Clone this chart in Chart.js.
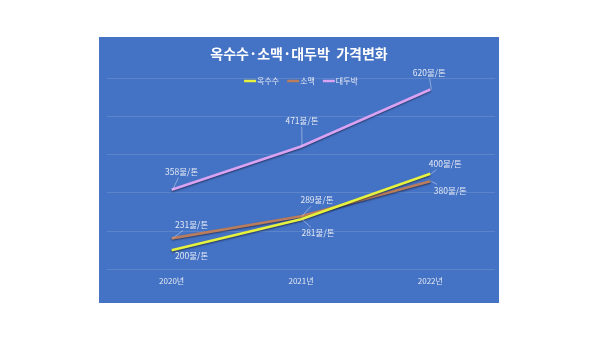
<!DOCTYPE html>
<html>
<head>
<meta charset="UTF-8">
<title>옥수수·소맥·대두박 가격변화</title>
<script src="https://cdn.jsdelivr.net/npm/chart.js@4"></script>
<style>
  html,body{margin:0;padding:0;background:#fff;}
  #box{position:absolute;left:99px;top:37px;width:400px;height:266px;background:#4472C4;}
</style>
</head>
<body>
<div id="box"><canvas id="chart"></canvas></div>
<script>
const titleText = "옥수수·소맥·대두박  가격변화";
const years = ["2020년", "2021년", "2022년"];
const corn = [200, 281, 400];
const wheat = [231, 289, 380];
const soyMeal = [358, 471, 620];
const unit = "불/톤";

// label offsets from each point (dx, dy), per series
const labelOffsets = [
  [[20, 6], [17, 14], [15, -10]],
  [[20, -14], [16, -16], [20, 9]],
  [[10, -18], [1, -26], [-1, -17]]
];

const font = "'Noto Sans CJK KR', 'Noto Sans', sans-serif";

const headerPlugin = {
  id: "header",
  afterDraw(chart) {
    const ctx = chart.ctx;
    const w = chart.width;
    ctx.save();
    ctx.fillStyle = "#ffffff";
    ctx.font = "bold 14px " + font;
    ctx.textAlign = "center";
    ctx.textBaseline = "middle";
    ctx.fillText(titleText, w / 2, 17);

    // legend
    ctx.font = "8px " + font;
    const items = chart.data.datasets.map(d => ({label: d.label, color: d.borderColor}));
    const lineW = 12, gap = 1, spacing = 8;
    let total = 0;
    items.forEach(it => { it.tw = ctx.measureText(it.label).width; total += lineW + gap + it.tw; });
    total += spacing * (items.length - 1);
    let x = w / 2 - total / 2 + 2;
    const y = 44;
    ctx.textAlign = "left";
    items.forEach(it => {
      ctx.strokeStyle = it.color;
      ctx.lineWidth = 2.5;
      ctx.beginPath();
      ctx.moveTo(x, y);
      ctx.lineTo(x + lineW, y);
      ctx.stroke();
      ctx.fillStyle = "#e4e9f4";
      ctx.fillText(it.label, x + lineW + gap, y);
      x += lineW + gap + it.tw + spacing;
    });
    ctx.restore();
  }
};

const shadowPlugin = {
  id: "lineShadow",
  beforeDatasetDraw(chart) {
    const ctx = chart.ctx;
    ctx.save();
    ctx.shadowColor = "rgba(20,20,40,0.55)";
    ctx.shadowBlur = 1.5;
    ctx.shadowOffsetY = 1.2;
  },
  afterDatasetDraw(chart) {
    chart.ctx.restore();
  }
};

const labelPlugin = {
  id: "pointLabels",
  afterDatasetsDraw(chart) {
    const ctx = chart.ctx;
    ctx.save();
    ctx.font = "8.5px " + font;
    ctx.textAlign = "center";
    ctx.textBaseline = "middle";
    chart.data.datasets.forEach((ds, i) => {
      const meta = chart.getDatasetMeta(i);
      meta.data.forEach((pt, j) => {
        const [dx, dy] = labelOffsets[i][j];
        const text = ds.data[j] + unit;
        const tx = pt.x + dx, ty = pt.y + dy;
        const hw = ctx.measureText(text).width / 2 + 1, hh = 6;
        // leader line from point to text box edge
        const vx = tx - pt.x, vy = ty - pt.y;
        const s = Math.min(Math.abs(vx) > 0 ? hw / Math.abs(vx) : 99, Math.abs(vy) > 0 ? hh / Math.abs(vy) : 99);
        const ex = tx - vx * s, ey = ty - vy * s;
        if (Math.hypot(ex - pt.x, ey - pt.y) > 3) {
          ctx.strokeStyle = "rgba(220,228,245,0.7)";
          ctx.lineWidth = 0.7;
          ctx.beginPath();
          ctx.moveTo(pt.x + 1, pt.y);
          ctx.lineTo(ex, ey);
          ctx.stroke();
        }
        ctx.fillStyle = "#e4e9f4";
        ctx.fillText(text, tx, ty);
      });
    });
    ctx.restore();
  }
};

function series(label, data, color) {
  return {
    label: label,
    data: data,
    borderColor: color,
    backgroundColor: color,
    borderWidth: 2.6,
    pointRadius: 0,
    tension: 0,
    clip: false
  };
}

new Chart(document.getElementById("chart"), {
  type: "line",
  data: {
    labels: years,
    datasets: [
      series("옥수수", corn, "#e6f23e"),
      series("소맥", wheat, "#b97c5c"),
      series("대두박", soyMeal, "#d9a2f2")
    ]
  },
  options: {
    responsive: true,
    maintainAspectRatio: false,
    animation: false,
    layout: {padding: {top: 41, left: 8, right: 4, bottom: 10}},
    plugins: {
      legend: {display: false},
      title: {display: false},
      tooltip: {enabled: false}
    },
    scales: {
      x: {
        offset: true,
        grid: {display: false, drawTicks: false},
        border: {display: false},
        ticks: {color: "#e4e9f4", font: {family: font, size: 8}, padding: 7}
      },
      y: {
        min: 150,
        max: 650,
        ticks: {display: false, stepSize: 100},
        border: {display: false},
        grid: {color: "rgba(255,255,255,0.13)", lineWidth: 1, drawTicks: false}
      }
    }
  },
  plugins: [headerPlugin, shadowPlugin, labelPlugin]
});
</script>
</body>
</html>
